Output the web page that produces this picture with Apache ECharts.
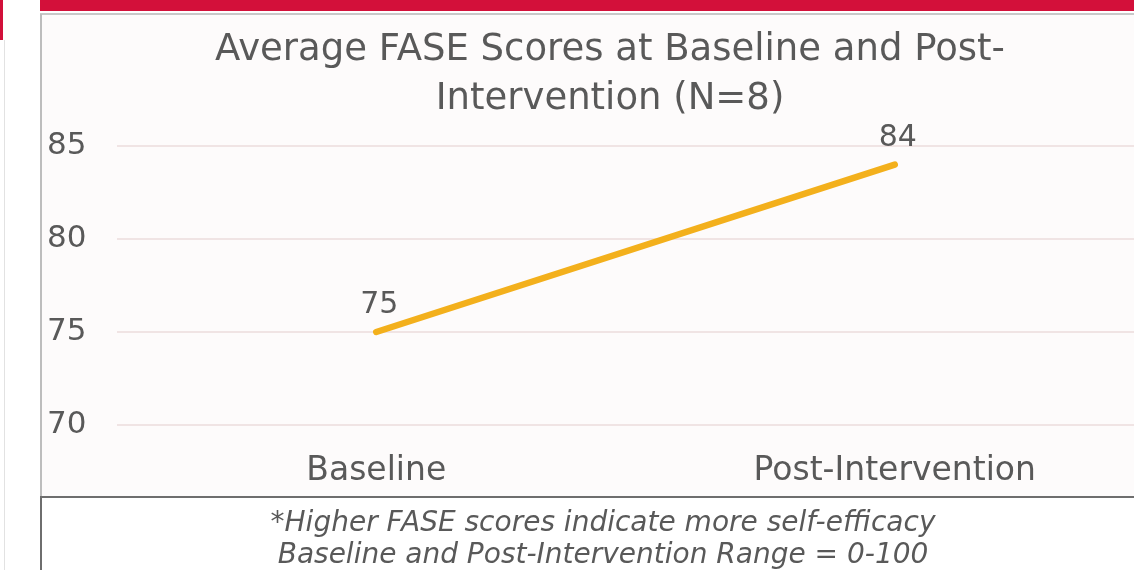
<!DOCTYPE html>
<html>
<head>
<meta charset="utf-8">
<script src="https://cdn.jsdelivr.net/npm/echarts@6/dist/echarts.min.js"></script>
<style>html,body{margin:0;padding:0;background:#fff}#c{width:1134px;height:570px}</style>
</head>
<body>
<div id="c"></div>
<script>
var categories = ['Baseline', 'Post-Intervention'];
var scores = [75, 84];
var yTicks = [70, 75, 80, 85];
var titleText = 'Average FASE Scores at Baseline and Post-\nIntervention (N=8)';
var footLines = ['*Higher FASE scores indicate more self-efficacy', 'Baseline and Post-Intervention Range = 0-100'];

var FONT = 'DejaVu Sans';
var chart = echarts.init(document.getElementById('c'), null, {renderer: 'canvas'});
chart.setOption({
  backgroundColor: '#ffffff',
  animation: false,
  graphic: [
    {type: 'rect', z: -10, shape: {x: 41, y: 15, width: 1093, height: 482}, style: {fill: '#FDFBFB'}},
    {type: 'rect', z: -10, shape: {x: 41, y: 498, width: 1093, height: 72}, style: {fill: '#FFFFFF'}},
    {type: 'rect', shape: {x: 0, y: 0, width: 3, height: 40}, style: {fill: '#D2103A'}},
    {type: 'line', shape: {x1: 4.5, y1: 40, x2: 4.5, y2: 570}, style: {stroke: '#E2E2E2', lineWidth: 1}},
    {type: 'rect', shape: {x: 40, y: 0, width: 1094, height: 11}, style: {fill: '#D3103A'}},
    {type: 'line', shape: {x1: 40, y1: 14, x2: 1134, y2: 14}, style: {stroke: '#C8C8C8', lineWidth: 2}},
    {type: 'line', shape: {x1: 41, y1: 14, x2: 41, y2: 497}, style: {stroke: '#BDBDBD', lineWidth: 2}},
    {type: 'line', shape: {x1: 41, y1: 497, x2: 41, y2: 570}, style: {stroke: '#6E6E6E', lineWidth: 2}},
    {type: 'line', shape: {x1: 40, y1: 497, x2: 1134, y2: 497}, style: {stroke: '#6E6E6E', lineWidth: 2}}
  ],
  title: [
    {
      text: titleText, left: 605, top: 21, textAlign: 'center',
      textStyle: {fontFamily: FONT, fontSize: 37, fontWeight: 'normal', color: '#595959', lineHeight: 49}
    },
    {
      text: footLines.join('\n'), left: 598, top: 503, textAlign: 'center',
      textStyle: {fontFamily: FONT, fontSize: 28, fontWeight: 'normal', fontStyle: 'italic', color: '#595959', lineHeight: 32}
    }
  ],
  grid: {left: 117, width: 1037, top: 146, bottom: 145, containLabel: false, outerBoundsMode: 'none'},
  xAxis: {
    type: 'category', data: categories, boundaryGap: true,
    axisLine: {show: false}, axisTick: {show: false},
    axisLabel: {fontFamily: FONT, fontSize: 33, color: '#595959', margin: 30}
  },
  yAxis: {
    type: 'value', min: yTicks[0], max: yTicks[yTicks.length - 1], interval: 5,
    axisLine: {show: false}, axisTick: {show: false},
    splitLine: {lineStyle: {color: '#EBDDDD', width: 1.5}},
    axisLabel: {fontFamily: FONT, fontSize: 31, color: '#595959', align: 'left', margin: 70}
  },
  series: [{
    type: 'line', data: scores, symbol: 'circle', symbolSize: 1, showSymbol: true, clip: false,
    itemStyle: {color: 'rgba(0,0,0,0)'},
    lineStyle: {color: '#F3B01C', width: 6.5, cap: 'round'},
    label: {show: true, position: 'top', distance: 11, offset: [3, 0], fontFamily: FONT, fontSize: 30, color: '#595959'}
  }]
});
</script>
</body>
</html>
